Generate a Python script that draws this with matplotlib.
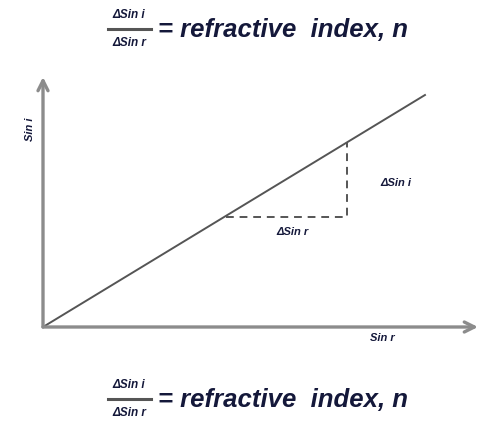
import matplotlib
matplotlib.use("Agg")
import matplotlib.pyplot as plt
from matplotlib.lines import Line2D

# data (axis units: sin r along x, sin i along y)
line_sin_r = [0.0, 0.88]
line_sin_i = [0.0, 0.93]
tri_sin_r = [0.42, 0.70, 0.70]
tri_sin_i = [0.44, 0.44, 0.74]
axis_labels = ["Sin r", "Sin i"]
delta_labels = ["\u0394Sin r", "\u0394Sin i"]
formula_num = "\u0394Sin i"
formula_den = "\u0394Sin r"
formula_rhs = "= refractive  index, n"

W, H = 485, 423
FONT = "Liberation Sans"
TXT = "#14183a"
AXC = "#8c8c8c"

fig = plt.figure(figsize=(W / 100, H / 100), dpi=100)
fig.patch.set_facecolor("white")

ax = fig.add_axes([43 / W, (H - 327) / H, 435 / W, 250 / H])
ax.set_xlim(0, 1)
ax.set_ylim(0, 1)
ax.axis("off")

# axes drawn as arrows
for end in [(1, 0), (0, 1)]:
    ax.annotate("", xy=end, xytext=(0, 0), xycoords="axes fraction",
                arrowprops=dict(arrowstyle="->", color=AXC, lw=2.4,
                                mutation_scale=18, shrinkA=0, shrinkB=0))

ax.plot(line_sin_r, line_sin_i, color="#555555", lw=1.4, solid_capstyle="butt")
ax.plot(tri_sin_r, tri_sin_i, color="#555555", lw=1.4, ls=(0, (4, 3)))

lab = dict(family=FONT, fontweight="bold", fontstyle="italic", color=TXT, fontsize=8)
ax.text(0.78, -0.045, axis_labels[0], ha="center", va="center", **lab)
ax.text(-0.03, 0.79, axis_labels[1], ha="center", va="center", rotation=90, **lab)
ax.text((tri_sin_r[0] + tri_sin_r[1]) / 2 + 0.014, tri_sin_i[0] - 0.06, delta_labels[0],
        ha="center", va="center", **lab)
ax.text(tri_sin_r[1] + 0.11, (tri_sin_i[1] + tri_sin_i[2]) / 2 - 0.012, delta_labels[1],
        ha="center", va="center", **lab)

# formula, top and bottom
def draw_formula(bar_y):
    y = (H - bar_y) / H
    fig.add_artist(Line2D([108 / W, 151 / W], [y, y], transform=fig.transFigure,
                          color="#555555", lw=2.2))
    small = dict(family=FONT, fontweight="bold", fontstyle="italic", color=TXT,
                 fontsize=8.5, ha="center", va="center")
    fig.text(129 / W, y + 14 / H, formula_num, **small)
    fig.text(129 / W, y - 14 / H, formula_den, **small)
    fig.text(158 / W, y - 1 / H, formula_rhs, family=FONT, fontweight="bold",
             fontstyle="italic", color=TXT, fontsize=18.5, ha="left", va="center")

draw_formula(29)
draw_formula(399)

fig.savefig("out.png", dpi=100)
